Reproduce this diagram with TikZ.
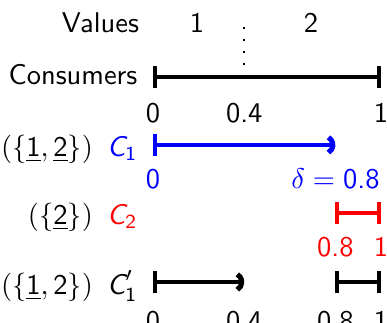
\documentclass[tikz,border=0pt]{standalone}
\usepackage{amsmath}
\usepackage{amssymb}
\usepackage{tikz}
\usetikzlibrary{arrows.meta,positioning}

\newcommand{\Cn}[1]{\textit{C}_{\text{#1}}}
\newcommand{\unum}[1]{\underline{\text{#1}}}

\tikzset{
  seg/.style={line width=1.4pt},
  segbar/.style={seg,{Bar[width=7.5pt]}-{Bar[width=7.5pt]}},
  segopen/.style={seg,{Bar[width=7.5pt]}-{Parenthesis[width=8pt,length=4pt,line width=1.8pt]}},
  rowlbl/.style={inner sep=3.3pt},
  numlbl/.style={inner sep=3.3pt}
}

\begin{document}
\begin{tikzpicture}[font=\sffamily]
    \useasboundingbox (0,-3.971) rectangle (4.772,0);

    % axis points
    \coordinate (v0) at (1.887,-0.284);
    \coordinate (a0) at (1.887,-0.950);
    \coordinate (a4) at (3.012,-0.950);
    \coordinate (a1) at (4.698,-0.950);
    \coordinate (b0) at (1.887,-1.788);
    \coordinate (b8) at (4.136,-1.788);
    \coordinate (c8) at (4.136,-2.627);
    \coordinate (c1) at (4.698,-2.627);
    \coordinate (d0) at (1.887,-3.478);
    \coordinate (d4) at (3.012,-3.478);
    \coordinate (d8) at (4.136,-3.478);
    \coordinate (d1) at (4.698,-3.478);
    \coordinate (dt) at (3.012,-0.333);
    \coordinate (db) at (3.012,-0.900);

    % values
    \node[rowlbl,left=0.05cm of v0] (val) {Values};
    \node (val1) at (2.429,-0.284) {1};
    \node (val2) at (3.835,-0.284) {2};
    \draw[line width=0.8pt,dash pattern=on 0.8pt off 3.4pt] (dt) -- (db);

    % consumers
    \node[rowlbl,left=0.07cm of a0,yshift=1pt] (cons) {Consumers};
    \draw[segbar] (a0) -- (a1);
    \node[numlbl,below=0.2cm of a0] (a0l) {0};
    \node[numlbl,below=0.2cm of a4] (a4l) {0.4};
    \node[numlbl,below=0.2cm of a1] (a1l) {1};

    % C1
    \node[rowlbl,left=0.07cm of b0,yshift=-1.5pt] (cone) {$(\{\unum{1},\unum{2}\})$~\,\textcolor{blue}{$\Cn{1}$}};
    \draw[segopen,blue] (b0) -- (b8);
    \node[numlbl,below=0.17cm of b0,blue] (b0l) {0};
    \node[numlbl,below=0.17cm of b8,blue] (b8l) {$\delta=\text{0.8}$};

    % C2
    \node[rowlbl,left=0.07cm of c8-|a0,yshift=-1.5pt] (ctwo) {$(\{\unum{2}\})$~\,\textcolor{red}{$\Cn{2}$}};
    \draw[segbar,red] (c8) -- (c1);
    \node[numlbl,below=0.18cm of c8,red] (c8l) {0.8};
    \node[numlbl,below=0.18cm of c1,red] (c1l) {1};

    % C1 prime
    \node[rowlbl,left=0.07cm of d0,yshift=-1.5pt] (cpr) {$(\{\unum{1},\text{2}\})$~\,$\textit{C}'_{\text{1}}$};
    \draw[segopen] (d0) -- (d4);
    \draw[segbar] (d8) -- (d1);
    \node[numlbl,below=0.23cm of d0] (d0l) {0};
    \node[numlbl,below=0.23cm of d4] (d4l) {0.4};
    \node[numlbl,below=0.23cm of d8] (d8l) {0.8};
    \node[numlbl,below=0.23cm of d1] (d1l) {1};
\end{tikzpicture}
\end{document}
